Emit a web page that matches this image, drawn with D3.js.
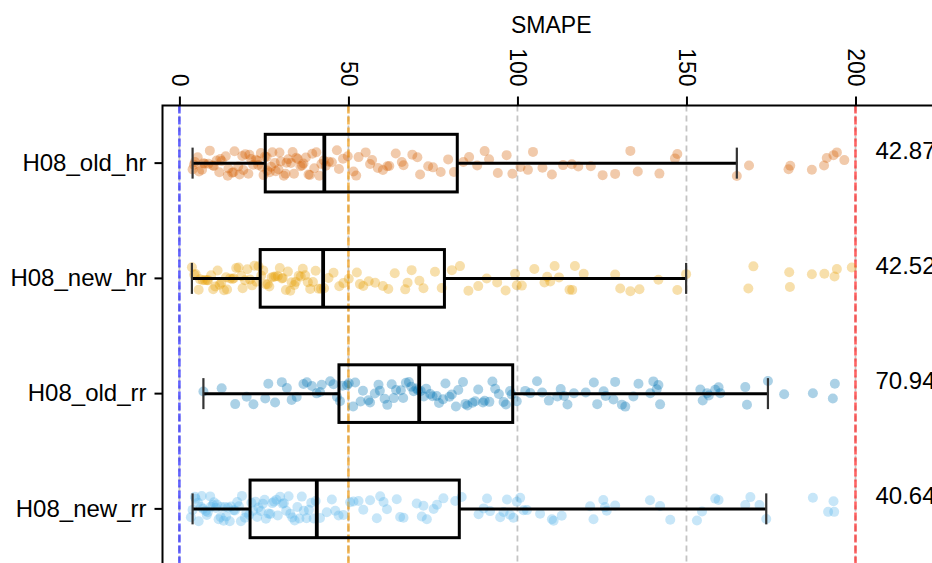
<!DOCTYPE html>
<html>
<head>
<meta charset="utf-8">
<script src="https://cdn.jsdelivr.net/npm/d3@7/dist/d3.min.js"></script>
<style>
  html, body { margin: 0; padding: 0; background: #fff; }
  svg { display: block; font-family: "Liberation Sans", Arial, Helvetica, sans-serif; }
</style>
</head>
<body>
<svg id="chart" width="932" height="563"></svg>
<script>
// Model runs, top to bottom
const categories = ["H08_old_hr", "H08_new_hr", "H08_old_rr", "H08_new_rr"];
const colors = ["#D55E00", "#E69F00", "#0072B2", "#56B4E9"];

// Box statistics per run (SMAPE)
const q1Values = [25.4, 23.9, 47.2, 20.9];
const medianValues = [42.87, 42.52, 70.94, 40.64];
const q3Values = [82.2, 78.4, 98.6, 82.8];
const whiskerLow = [3.9, 3.7, 7.1, 3.9];
const whiskerHigh = [164.9, 149.9, 174.1, 173.6];

// Axis ticks and reference lines
const xTicks = [0, 50, 100, 150, 200];
const refLines = [0, 50, 200];
const refColors = ["#3030ff", "#f0a020", "#ff3030"];

// Per-station SMAPE values
const pointsOldHr = [3.9, 4.3, 4.6, 5.4, 5.8, 6.7, 7.1, 7.5, 8.6, 9.0, 9.9, 10.2, 11.0, 11.8, 12.1, 12.5, 13.7, 14.3, 14.5, 15.6, 16.0, 16.3, 17.4, 17.8, 18.6, 18.9, 19.5, 20.4, 20.7, 21.2, 21.8, 22.6, 23.0, 23.3, 24.1, 24.4, 24.9,
  25.3, 25.8, 26.0, 26.7, 27.1, 27.5, 28.2, 28.5, 29.3, 29.6, 30.0, 30.9, 31.4, 31.7, 32.2, 33.0, 33.5, 33.9, 34.6, 35.0, 35.8, 36.3, 36.7, 37.4, 38.2, 38.6, 39.3, 39.9, 40.5, 41.4, 42.0, 42.7,
  43.3, 44.2, 45.1, 46.6, 47.2, 48.4, 49.8, 51.5, 52.3, 53.0, 55.1, 56.4, 57.0, 58.7, 60.2, 61.5, 62.1, 64.0, 65.8, 66.3, 68.9, 70.4, 71.2, 73.6, 75.0, 77.3, 79.5, 81.2,
  84.0, 85.7, 88.1, 90.3, 91.6, 94.2, 96.8, 98.5, 100.9, 103.1, 104.6, 107.4, 110.2, 113.5, 116.1, 118.0, 121.7, 125.2, 128.9, 133.4, 135.6, 142.0, 146.6, 147.3, 164.9,
  168.5, 180.2, 180.7, 187.1, 190.7, 191.5, 193.5, 194.5, 196.7];

const pointsNewHr = [3.7, 4.4, 4.8, 5.7, 6.1, 6.9, 7.6, 8.2, 8.5, 9.4, 10.0, 10.6, 11.3, 11.9, 12.4, 13.2, 13.8, 14.1, 15.0, 15.7, 16.1, 16.8, 17.5, 18.3, 18.7, 19.4, 20.1, 20.9, 21.5, 22.2, 22.8, 23.4,
  24.2, 24.8, 25.5, 26.1, 26.6, 27.3, 27.9, 28.4, 29.1, 29.7, 30.3, 30.6, 31.5, 32.1, 32.8, 33.2, 34.0, 34.4, 35.3, 35.9, 36.5, 37.2, 38.0, 38.7, 39.5, 40.3, 41.2, 41.9,
  42.8, 44.1, 45.6, 47.3, 48.5, 50.1, 52.5, 53.4, 54.4, 56.0, 57.9, 60.2, 61.8, 63.7, 66.8, 67.5, 68.7, 71.0, 72.2, 75.6, 77.6,
  80.6, 83.0, 85.5, 88.4, 90.9, 94.0, 96.5, 99.3, 99.8, 101.3, 105.0, 108.0, 108.8, 109.7, 111.0, 112.3, 115.4, 116.2, 117.0, 119.6, 128.9, 130.4, 133.4, 136.1, 141.7, 147.3, 149.9,
  168.3, 169.8, 180.4, 180.6, 187.1, 190.8, 193.8, 194.5, 198.9];

const pointsOldRr = [7.1, 12.5, 16.5, 19.9, 21.9, 25.4, 26.3, 28.3, 30.3, 31.8, 33.2, 34.7, 36.7, 37.7, 39.2, 40.6, 41.6, 42.1, 44.6, 45.6, 46.6,
  47.5, 48.3, 49.6, 50.1, 51.4, 52.0, 53.6, 54.3, 55.9, 56.4, 57.8, 58.9, 59.3, 60.7, 61.5, 62.8, 63.4, 64.1, 65.5, 66.2, 67.0, 67.9, 68.6, 69.3, 70.1, 70.6,
  71.4, 72.3, 73.0, 74.2, 74.9, 76.1, 76.8, 78.0, 78.7, 79.9, 80.6, 81.8, 82.5, 83.9, 84.6, 85.2, 86.7, 87.5, 88.4, 89.8, 90.3, 91.7, 92.6, 93.4, 94.5, 95.9, 96.6, 97.8, 98.3,
  99.8, 102.3, 103.8, 105.8, 107.3, 109.3, 111.8, 112.8, 113.8, 114.8, 116.7, 120.2, 122.6, 123.6, 125.5, 126.1, 128.4, 128.9, 130.9, 131.9, 134.3, 135.8, 139.3, 140.2, 141.2, 141.7, 142.2,
  154.1, 154.8, 156.1, 156.6, 158.5, 159.5, 160.0, 167.4, 167.9, 174.1,
  178.9, 187.4, 193.3, 193.9];

const pointsNewRr = [3.4, 3.9, 4.6, 4.8, 5.5, 5.7, 6.4, 6.6, 7.0, 7.8, 8.1, 8.4, 9.1, 9.3, 9.9, 10.2, 10.8, 11.1, 11.6, 12.2, 12.4, 13.1, 13.5, 13.8, 14.4, 14.9, 15.3, 16.0, 16.4, 17.1, 17.6, 18.2, 18.5, 19.4, 19.8, 20.6,
  21.3, 21.8, 22.5, 23.0, 23.4, 24.1, 24.7, 25.2, 25.6, 26.4, 26.9, 27.5, 28.0, 28.7, 29.1, 29.8, 30.5, 30.9, 31.6, 32.3, 32.8, 33.4, 34.1, 34.9, 35.5, 36.2, 36.8, 37.6, 38.3, 39.0, 39.7, 40.3,
  41.6, 43.6, 45.1, 46.1, 47.1, 48.5, 50.5, 51.5, 53.0, 54.4, 56.4, 58.4, 59.4, 60.4, 61.4, 64.3, 65.3, 66.3, 70.2, 71.7, 72.2, 73.2, 75.2, 76.2, 78.1, 81.6,
  83.5, 88.5, 90.0, 91.0, 91.9, 94.9, 95.9, 96.9, 97.8, 98.8, 99.8, 100.8, 101.8, 102.8, 106.7, 110.2, 110.7, 113.1, 121.5, 122.5, 125.4, 125.9, 126.4, 128.9, 139.2, 142.2, 145.2,
  153.1, 154.6, 158.5, 159.5, 167.4, 168.9, 171.6, 173.6,
  187.4, 191.9, 193.5, 193.7];

const pointSeries = [pointsOldHr, pointsNewHr, pointsOldRr, pointsNewRr];

// ---- layout ----
const svg = d3.select("#chart");
const margin = { left: 162.5, top: 105.5 };
const plotW = 777.5, plotH = 461;

const x = d3.scaleLinear().domain([-5, 225]).range([0, plotW]);
const y = d3.scaleBand().domain(categories).range([0, plotH]);
const bw = y.bandwidth();
const boxH = bw * 0.5;
const capH = 31;

const g = svg.append("g").attr("transform", `translate(${margin.left},${margin.top})`);

// dashed vertical grid at each tick
g.append("g").selectAll("line").data(xTicks).join("line")
  .attr("x1", d => x(d)).attr("x2", d => x(d))
  .attr("y1", 0).attr("y2", plotH)
  .attr("stroke", "#c4c4c4").attr("stroke-width", 1.8)
  .attr("stroke-dasharray", "6,4");

// coloured reference lines
g.append("g").selectAll("line").data(refLines).join("line")
  .attr("x1", d => x(d)).attr("x2", d => x(d))
  .attr("y1", 0).attr("y2", plotH)
  .attr("stroke", (d, i) => refColors[i]).attr("stroke-opacity", 0.75)
  .attr("stroke-width", 2.6)
  .attr("stroke-dasharray", "8,3");

// jittered points: deterministic hash-based vertical spread inside each band
const jitter = (i, k) => {
  const s = Math.sin((i + 1) * 12.9898 + (k + 1) * 78.233) * 43758.5453;
  return ((s - Math.floor(s)) - 0.5) * 2 * 13;
};

categories.forEach((cat, k) => {
  const cy = y(cat) + bw / 2;
  g.append("g").selectAll("circle").data(pointSeries[k]).join("circle")
    .attr("cx", d => x(d))
    .attr("cy", (d, i) => cy + jitter(i, k))
    .attr("r", 5)
    .attr("fill", colors[k])
    .attr("fill-opacity", 0.33);
});

// boxes, whiskers and medians
categories.forEach((cat, k) => {
  const cy = y(cat) + bw / 2;
  const bg = g.append("g");
  bg.append("line")
    .attr("x1", x(whiskerLow[k])).attr("x2", x(q1Values[k]))
    .attr("y1", cy).attr("y2", cy)
    .attr("stroke", "#000").attr("stroke-width", 3);
  bg.append("line")
    .attr("x1", x(q3Values[k])).attr("x2", x(whiskerHigh[k]))
    .attr("y1", cy).attr("y2", cy)
    .attr("stroke", "#000").attr("stroke-width", 3);
  [whiskerLow[k], whiskerHigh[k]].forEach(v => {
    bg.append("line")
      .attr("x1", x(v)).attr("x2", x(v))
      .attr("y1", cy - capH / 2).attr("y2", cy + capH / 2)
      .attr("stroke", "#333").attr("stroke-width", 2.2);
  });
  bg.append("rect")
    .attr("x", x(q1Values[k])).attr("y", cy - boxH / 2)
    .attr("width", x(q3Values[k]) - x(q1Values[k])).attr("height", boxH)
    .attr("fill", "none").attr("stroke", "#000").attr("stroke-width", 3);
  bg.append("line")
    .attr("x1", x(medianValues[k])).attr("x2", x(medianValues[k]))
    .attr("y1", cy - boxH / 2).attr("y2", cy + boxH / 2)
    .attr("stroke", "#000").attr("stroke-width", 3.8);
  // median value label
  g.append("text")
    .attr("x", x(200) + 20).attr("y", cy - 4.5)
    .attr("font-size", 24).attr("fill", "#000")
    .text(medianValues[k].toFixed(2));
});

// frame
g.append("rect")
  .attr("x", 0).attr("y", 0).attr("width", plotW).attr("height", plotH)
  .attr("fill", "none").attr("stroke", "#000").attr("stroke-width", 2);

// top axis with rotated labels
const xAxis = g.append("g")
  .call(d3.axisTop(x).tickValues(xTicks).tickSize(9).tickPadding(10).tickFormat(d3.format("d")));
xAxis.select(".domain").remove();
xAxis.selectAll(".tick line").attr("stroke", "#000").attr("stroke-width", 2);
xAxis.selectAll(".tick text")
  .attr("font-size", 23).attr("font-family", null).attr("fill", "#000")
  .attr("transform", "rotate(90)")
  .attr("x", -19).attr("y", 0).attr("dy", "0.35em")
  .attr("text-anchor", "end");

// left axis
const yAxis = g.append("g")
  .call(d3.axisLeft(y).tickSize(8).tickPadding(8));
yAxis.select(".domain").remove();
yAxis.selectAll(".tick line").attr("stroke", "#000").attr("stroke-width", 2);
yAxis.selectAll(".tick text").attr("font-size", 24).attr("font-family", null).attr("fill", "#000");

// axis title centred over the plot area
svg.append("text")
  .attr("x", margin.left + plotW / 2).attr("y", 33)
  .attr("text-anchor", "middle").attr("font-size", 23).attr("fill", "#000")
  .text("SMAPE");
</script>
</body>
</html>
